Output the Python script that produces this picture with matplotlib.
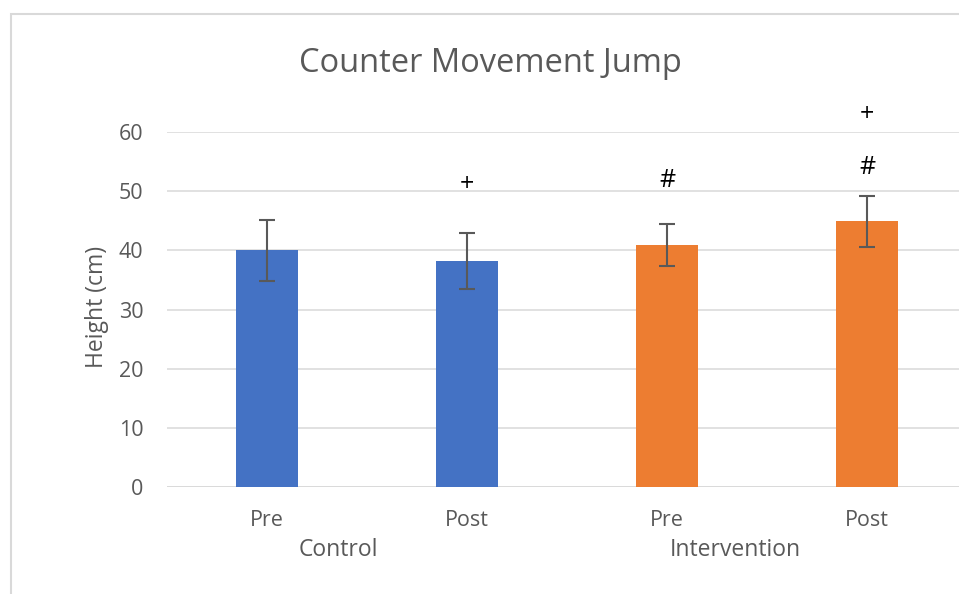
import matplotlib
matplotlib.use("Agg")
import matplotlib.pyplot as plt
from matplotlib.patches import Rectangle

# data
groups = ["Control", "Intervention"]
phases = ["Pre", "Post", "Pre", "Post"]
heights = [40.0, 38.2, 40.9, 44.9]
errors = [5.15, 4.75, 3.6, 4.35]
colors = ["#4472C4", "#4472C4", "#ED7D31", "#ED7D31"]
marks = [(1, 51.2, "+"), (2, 51.85, "#"), (3, 54.05, "#"), (3, 62.9, "+")]
group_pos = [0.355, 2.34]

W, H = 959, 594
plt.rcParams['font.family'] = ['Open Sans', 'DejaVu Sans']
grey = "#595959"

fig = plt.figure(figsize=(W / 100, H / 100), dpi=100)
ax = fig.add_axes([167 / W, 1 - 487 / H, (W - 167) / W, (487 - 132) / H])

x = range(len(heights))
ax.bar(x, heights, width=0.31, color=colors, zorder=2)
ax.errorbar(x, heights, yerr=errors, fmt="none", ecolor=grey,
            elinewidth=1.5, capsize=5.7, capthick=1.5, zorder=3)

ax.set_xlim(-0.5, -0.5 + (W - 167) / 200)
ax.set_ylim(0, 60)
ax.set_yticks(range(0, 61, 10))
ax.yaxis.grid(True, color="#d9d9d9", linewidth=1.1, zorder=0)
for s in ax.spines.values():
    s.set_visible(False)
ax.axhline(0, color="#d9d9d9", linewidth=1.1, zorder=1)
ax.tick_params(length=0, labelsize=15.5, labelcolor=grey, pad=17)
ax.tick_params(axis="x", pad=16.5)
ax.set_xticks(list(x))
ax.set_xticklabels(phases)
fig.text(97 / W, 1 - 307 / H, "Height (cm)", rotation=90, ha="center",
         va="center", fontsize=16.5, color=grey)

for xi, yi, s in marks:
    ax.text(xi, yi, s, ha="center", va="center", fontsize=18, color="black",
            clip_on=False)

for g, gx in zip(groups, group_pos):
    ax.text(gx, -10.7, g, ha="center", va="center", fontsize=16.5, color=grey)

fig.text(490 / W, 1 - 64 / H, "Counter Movement Jump", ha="center",
         va="center", fontsize=23.5, color=grey)

# chart-area frame
fig.patches.append(Rectangle((11 / W, -0.1), 1.2, 1 - 14 / H + 0.1,
                             transform=fig.transFigure, fill=False,
                             edgecolor="#d9d9d9", linewidth=1.5))

fig.savefig("out.png", dpi=100)
